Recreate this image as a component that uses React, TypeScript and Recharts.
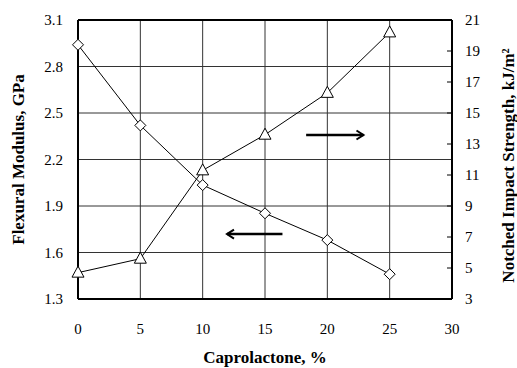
import { CartesianGrid, Line, LineChart, ReferenceLine, XAxis, YAxis } from 'recharts';

const caprolactone = [0, 5, 10, 15, 20, 25];
const flexuralModulus = [2.94, 2.42, 2.035, 1.853, 1.68, 1.46];
const impactStrength = [4.7, 5.6, 11.3, 13.6, 16.3, 20.2];

const xTicks = [0, 5, 10, 15, 20, 25, 30];
const leftTicks = [1.3, 1.6, 1.9, 2.2, 2.5, 2.8, 3.1];
const rightTicks = [3, 5, 7, 9, 11, 13, 15, 17, 19, 21];

// arrow annotations, in data units of the left axis
const rightArrow = { x1: 18.3, x2: 22.9, y: 2.358 };
const leftArrow = { x1: 16.4, x2: 11.95, y: 1.719 };

const data = caprolactone.map((c, i) => ({
  c,
  modulus: flexuralModulus[i],
  impact: impactStrength[i],
}));

const font = 'Liberation Serif';

function Diamond({ cx, cy }: any) {
  if (cx == null || cy == null) return null;
  const r = 5.5;
  return (
    <path
      d={`M${cx},${cy - r}L${cx + r},${cy}L${cx},${cy + r}L${cx - r},${cy}Z`}
      fill="#fff"
      stroke="#000"
      strokeWidth={1}
    />
  );
}

function Triangle({ cx, cy }: any) {
  if (cx == null || cy == null) return null;
  const w = 6;
  return (
    <path
      d={`M${cx},${cy - 6.5}L${cx + w},${cy + 4.5}L${cx - w},${cy + 4.5}Z`}
      fill="#fff"
      stroke="#000"
      strokeWidth={1}
    />
  );
}

function Arrow(props: any) {
  const { x1, y1, x2, y2 } = props;
  const dir = x2 > x1 ? 1 : -1;
  return (
    <g stroke="#000" strokeWidth={2.5} fill="none">
      <line x1={x1} y1={y1} x2={x2} y2={y2} />
      <polyline
        points={`${x2 - dir * 7},${y2 - 4.5} ${x2},${y2} ${x2 - dir * 7},${y2 + 4.5}`}
        strokeWidth={2}
      />
    </g>
  );
}

function RightTick({ x, y, payload }: any) {
  const edge = x - 13;
  return (
    <g>
      <line x1={edge} y1={y} x2={edge - 5} y2={y} stroke="#000" strokeWidth={1} />
      <text x={x} y={y} dy={5} textAnchor="start" fontFamily={font} fontSize={15} fill="#000">
        {payload.value}
      </text>
    </g>
  );
}

const tickStyle = { fill: '#000', fontSize: 15, fontFamily: font };
const titleStyle = { fill: '#000', fontSize: 17, fontWeight: 'bold', fontFamily: font };

export default function App() {
  return (
    <div style={{ position: 'absolute', left: 0, top: 0, background: '#fff' }}>
      <LineChart width={517} height={368} data={data} margin={{ top: 20, right: 0, bottom: 0, left: 0 }}>
        <CartesianGrid yAxisId="left" stroke="#333" strokeWidth={1} />
        <XAxis
          dataKey="c"
          type="number"
          domain={[0, 30]}
          ticks={xTicks}
          height={69}
          tickLine={false}
          tickSize={6}
          tickMargin={18}
          axisLine={{ stroke: '#000', strokeWidth: 2 }}
          tick={tickStyle}
          label={{ value: 'Caprolactone, %', position: 'insideBottom', offset: 5, ...titleStyle }}
        />
        <YAxis
          yAxisId="left"
          domain={[1.3, 3.1]}
          ticks={leftTicks}
          width={78}
          tickLine={false}
          tickSize={6}
          tickMargin={9}
          axisLine={{ stroke: '#000', strokeWidth: 2 }}
          tickFormatter={(v: number) => v.toFixed(1)}
          tick={tickStyle}
          label={{ value: 'Flexural Modulus, GPa', angle: -90, position: 'center', dx: -21, ...titleStyle }}
        />
        <YAxis
          yAxisId="right"
          orientation="right"
          domain={[3, 21]}
          ticks={rightTicks}
          width={65}
          tickLine={false}
          tickSize={0}
          tickMargin={13}
          axisLine={{ stroke: '#000', strokeWidth: 2 }}
          tick={<RightTick />}
          label={{
            value: 'Notched Impact Strength, kJ/m²',
            angle: -90,
            position: 'center',
            dx: 23,
            dy: 6,
            ...titleStyle,
          }}
        />
        <ReferenceLine yAxisId="left" y={3.1} stroke="#000" strokeWidth={2} />
        <ReferenceLine
          yAxisId="left"
          segment={[
            { x: rightArrow.x1, y: rightArrow.y },
            { x: rightArrow.x2, y: rightArrow.y },
          ]}
          shape={<Arrow />}
        />
        <ReferenceLine
          yAxisId="left"
          segment={[
            { x: leftArrow.x1, y: leftArrow.y },
            { x: leftArrow.x2, y: leftArrow.y },
          ]}
          shape={<Arrow />}
        />
        <Line
          yAxisId="left"
          dataKey="modulus"
          stroke="#000"
          strokeWidth={1}
          dot={<Diamond />}
          activeDot={false}
          isAnimationActive={false}
        />
        <Line
          yAxisId="right"
          dataKey="impact"
          stroke="#000"
          strokeWidth={1}
          dot={<Triangle />}
          activeDot={false}
          isAnimationActive={false}
        />
      </LineChart>
    </div>
  );
}
